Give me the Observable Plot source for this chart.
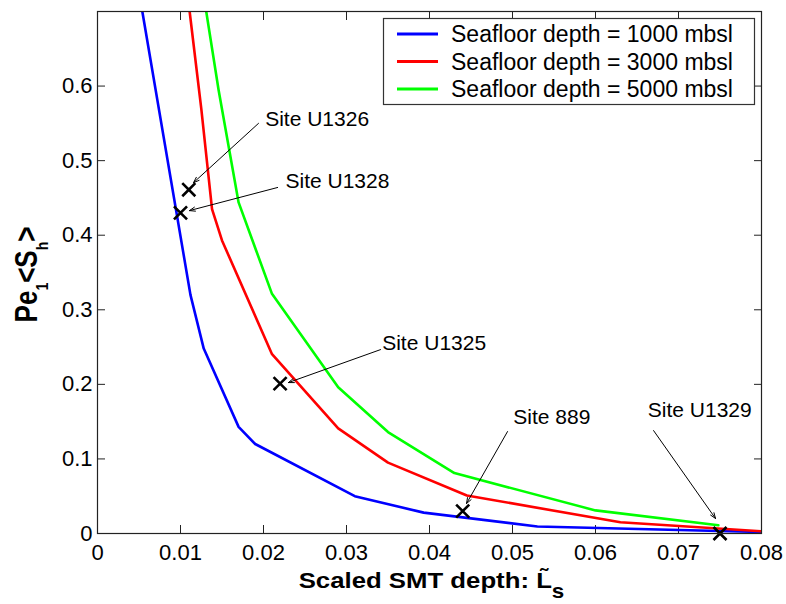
<!DOCTYPE html>
<html><head>
<meta charset="utf-8">
<script src="https://cdn.jsdelivr.net/npm/d3@7"></script>
<script src="https://cdn.jsdelivr.net/npm/@observablehq/plot@0.6"></script>
<style>
body{margin:0;background:#fff}
svg{font-family:Arial,"Liberation Sans",sans-serif}
</style>
</head><body><div id="chart"></div>
<script>
// ---- data ----
const xTicks = [0, 0.01, 0.02, 0.03, 0.04, 0.05, 0.06, 0.07, 0.08];
const yTicks = [0, 0.1, 0.2, 0.3, 0.4, 0.5, 0.6];
const seriesNames = ["Seafloor depth = 1000 mbsl", "Seafloor depth = 3000 mbsl", "Seafloor depth = 5000 mbsl"];
const seriesColors = ["#0000ff", "#ff0000", "#00ff00"];

const depth1000X = [0.0054, 0.0112, 0.0128, 0.017, 0.019, 0.031, 0.0393, 0.053, 0.08];
const depth1000Y = [0.70, 0.32, 0.248, 0.143, 0.12, 0.05, 0.028, 0.0094, 0.002];
const depth3000X = [0.0111, 0.0125, 0.0138, 0.015, 0.021, 0.029, 0.035, 0.0445, 0.063, 0.08];
const depth3000Y = [0.70, 0.57, 0.435, 0.393, 0.241, 0.141, 0.095, 0.051, 0.015, 0.003];
const depth5000X = [0.0131, 0.0146, 0.017, 0.021, 0.029, 0.035, 0.043, 0.06, 0.0748];
const depth5000Y = [0.70, 0.594, 0.444, 0.322, 0.196, 0.136, 0.081, 0.031, 0.011];

const siteNames = ["Site U1326", "Site U1328", "Site U1325", "Site 889", "Site U1329"];
const siteX = [0.011, 0.010, 0.022, 0.044, 0.075];
const siteY = [0.461, 0.430, 0.201, 0.030, 0.000];
const labelX = [0.0202, 0.02265, 0.0343, 0.0501, 0.0663];
const labelY = [0.555, 0.473, 0.2547, 0.1555, 0.165];
const arrowX1 = [0.0194, 0.0217, 0.0341, 0.0494, 0.0670];
const arrowY1 = [0.550, 0.464, 0.2466, 0.1367, 0.138];
const arrowX2 = [0.01157, 0.01108, 0.0230, 0.04446, 0.07446];
const arrowY2 = [0.4705, 0.433, 0.2024, 0.0402, 0.0201];

// ---- build tables ----
const seriesX = [depth1000X, depth3000X, depth5000X];
const seriesY = [depth1000Y, depth3000Y, depth5000Y];
const lines = seriesNames.flatMap((name, i) => seriesX[i].map((x, j) => ({series: name, x, y: seriesY[i][j]})));
const sites = siteNames.map((name, i) => ({name, x: siteX[i], y: siteY[i], lx: labelX[i], ly: labelY[i],
  x1: arrowX1[i], y1: arrowY1[i], x2: arrowX2[i], y2: arrowY2[i]}));

const W = 786, H = 604;
const fmt = d => String(d);
const axisColor = "#222";

const plot = Plot.plot({
  width: W, height: H,
  marginLeft: 97, marginRight: 25, marginTop: 11, marginBottom: 71,
  style: {fontFamily: "Arial, 'Liberation Sans', sans-serif", fontSize: "22px", color: "#000", background: "#fff", overflow: "visible"},
  x: {domain: [0, 0.08]},
  y: {domain: [0, 0.7]},
  color: {domain: seriesNames, range: seriesColors},
  marks: [
    Plot.axisX({ticks: xTicks, tickSize: -8, tickPadding: 19, tickFormat: fmt, label: null, stroke: axisColor, fontSize: 22}),
    Plot.axisX({anchor: "top", ticks: xTicks, tickSize: -8, tickFormat: () => "", label: null, stroke: axisColor}),
    Plot.axisY({ticks: yTicks, tickSize: -8, tickPadding: 13, tickFormat: fmt, label: null, stroke: axisColor, fontSize: 22}),
    Plot.axisY({anchor: "right", ticks: yTicks, tickSize: -8, tickFormat: () => "", label: null, stroke: axisColor}),
    Plot.line(lines, {x: "x", y: "y", z: "series", stroke: "series", strokeWidth: 2.6, clip: true}),
    Plot.arrow(sites, {x1: "x1", y1: "y1", x2: "x2", y2: "y2", stroke: "#000", strokeWidth: 1, headLength: 9, headAngle: 40}),
    Plot.dot(sites, {x: "x", y: "y", symbol: "times", r: 6, stroke: "#000", strokeWidth: 2.6}),
    Plot.text(sites, {x: "lx", y: "ly", text: "name", textAnchor: "start", fontSize: 21, fill: "#000"}),
    Plot.frame({stroke: axisColor, strokeWidth: 1.2})
  ]
});
document.getElementById("chart").appendChild(plot);

// ---- legend, axis titles ----
const svg = d3.select(plot);
const leg = svg.append("g");
leg.append("rect").attr("x", 383.5).attr("y", 18.5).attr("width", 371).attr("height", 86)
  .attr("fill", "#fff").attr("stroke", "#333").attr("stroke-width", 1.2);
seriesNames.forEach((name, i) => {
  const cy = 34 + i * 27.5;
  leg.append("line").attr("x1", 397).attr("x2", 438).attr("y1", cy).attr("y2", cy)
    .attr("stroke", seriesColors[i]).attr("stroke-width", 3);
  leg.append("text").attr("x", 451).attr("y", cy).attr("dy", "0.35em").attr("text-anchor", "start")
    .attr("font-size", 23).attr("fill", "#000").text(name);
});

// x-axis title (L with tilde accent, subscript s)
const xg = svg.append("g").attr("transform", "translate(431.5,588) scale(1.12,1)");
const xt = xg.append("text").attr("x", 0).attr("y", 0).attr("text-anchor", "middle")
  .attr("font-size", 23).attr("font-weight", "bold").attr("fill", "#000");
xt.append("tspan").text("Scaled SMT depth: L\u0303");
xt.append("tspan").attr("font-size", 20).attr("dy", 10).text("s");

// y-axis title
const yt = svg.append("text").attr("transform", "translate(37,274.5) rotate(-90) scale(1,1.24)")
  .attr("text-anchor", "middle").attr("font-size", 26).attr("font-weight", "bold").attr("fill", "#000");
yt.append("tspan").text("Pe");
yt.append("tspan").attr("font-size", 14).attr("dy", 9).text("1");
yt.append("tspan").attr("dy", -9).text("<S");
yt.append("tspan").attr("font-size", 14).attr("dy", 9).text("h");
yt.append("tspan").attr("dy", -9).text(">");
</script>
</body></html>
